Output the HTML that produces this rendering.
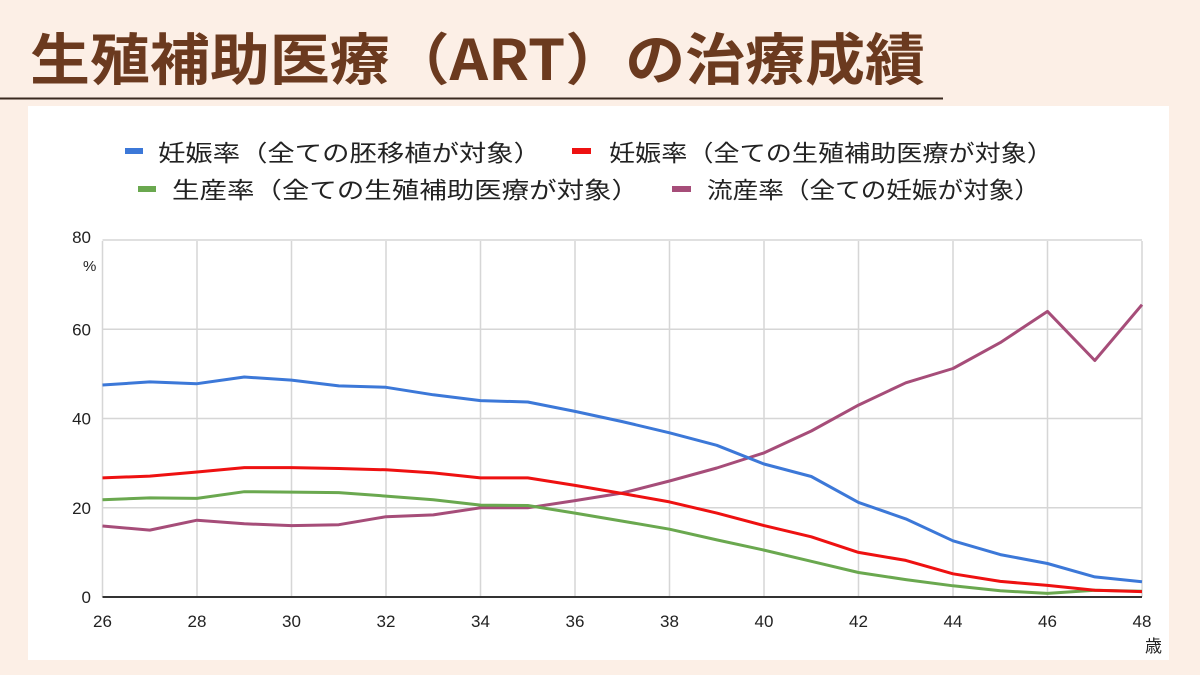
<!DOCTYPE html>
<html><head><meta charset="utf-8"><style>
html,body{margin:0;padding:0;}
body{width:1200px;height:675px;background:#fcefe6;position:relative;overflow:hidden;font-family:"Liberation Sans","Noto Sans CJK JP",sans-serif;}
</style></head><body>
<svg width="1200" height="675" xmlns="http://www.w3.org/2000/svg" style="position:absolute;left:0;top:0">
<text x="30" y="80" font-family="Noto Sans CJK JP, sans-serif" font-weight="700" font-size="56" fill="#6b3a1f" textLength="895" lengthAdjust="spacingAndGlyphs">生殖補助医療（ART）の治療成績</text>
<line x1="0" y1="98.5" x2="943" y2="98.5" stroke="#3a2a20" stroke-width="2"/>
<rect x="28" y="106" width="1141" height="554" fill="#ffffff"/>
<g font-family="Liberation Sans, Noto Sans CJK JP, sans-serif" font-size="23" fill="#222">
<rect x="125" y="148" width="18" height="6" fill="#3c78d8"/>
<text x="158" y="161" textLength="383" lengthAdjust="spacingAndGlyphs">妊娠率（全ての胚移植が対象）</text>
<rect x="572" y="148" width="19" height="6" fill="#ee1111"/>
<text x="609" y="161" textLength="444" lengthAdjust="spacingAndGlyphs">妊娠率（全ての生殖補助医療が対象）</text>
<rect x="138" y="186" width="18" height="6" fill="#6aa84f"/>
<text x="172" y="198" textLength="467" lengthAdjust="spacingAndGlyphs">生産率（全ての生殖補助医療が対象）</text>
<rect x="672" y="186" width="19" height="6" fill="#a64d79"/>
<text x="707" y="198" textLength="333" lengthAdjust="spacingAndGlyphs">流産率（全ての妊娠が対象）</text>
</g>
<g id="grid" stroke="#d6d6d6" stroke-width="1.5"></g>
<g id="lbl" font-family="Liberation Sans, sans-serif" font-size="17" fill="#222"></g>
<g id="ser" fill="none" stroke-width="3" stroke-linejoin="round"></g>
<text x="83" y="271" font-family="Liberation Sans, sans-serif" font-size="15" fill="#222">%</text>
<text x="1145" y="652" font-family="Noto Sans CJK JP, sans-serif" font-size="17" fill="#222">歳</text>
</svg>
<script>
var X0=102.5,DX=47.25,Y0=597,DY=4.4625,ns="http://www.w3.org/2000/svg";
function el(t,a,p){var e=document.createElementNS(ns,t);for(var k in a)e.setAttribute(k,a[k]);document.getElementById(p).appendChild(e);return e;}
for(var i=0;i<=11;i++){var x=X0+i*2*DX;el('line',{x1:x,y1:241,x2:x,y2:Y0},'grid');var t=el('text',{x:x,y:627,'text-anchor':'middle'},'lbl');t.textContent=26+2*i;}
for(var v=0;v<=80;v+=20){var y=Y0-v*DY;el('line',{x1:X0,y1:y,x2:1142,y2:y},'grid');var t=el('text',{x:91,y:y+(v==80?3:6),'text-anchor':'end'},'lbl');t.textContent=v;}
el('line',{x1:X0,y1:Y0,x2:1142,y2:Y0,stroke:'#333','stroke-width':2},'grid');
var S=[
['#a64d79',[15.9,15,17.2,16.4,16,16.2,18,18.4,20,20,21.6,23.3,26,28.9,32.3,37.2,43,48,51.2,57,64,53,65.5]],
['#6aa84f',[21.8,22.2,22.1,23.6,23.5,23.4,22.6,21.8,20.6,20.5,18.8,17,15.2,12.8,10.5,8,5.5,3.9,2.5,1.4,0.8,1.5,1.3]],
['#ee1111',[26.7,27.1,28,29,29,28.8,28.5,27.8,26.7,26.7,25,23.2,21.3,18.8,16,13.5,10,8.2,5.2,3.5,2.6,1.5,1.2]],
['#3c78d8',[47.5,48.2,47.8,49.3,48.6,47.3,47,45.3,44,43.7,41.6,39.3,36.8,34,29.8,27,21.2,17.5,12.6,9.5,7.5,4.5,3.4]]];
S.forEach(function(s){var p=s[1].map(function(v,i){return (X0+i*DX).toFixed(1)+','+(Y0-v*DY).toFixed(1)}).join(' ');el('polyline',{points:p,stroke:s[0]},'ser');});
</script>
</body></html>
